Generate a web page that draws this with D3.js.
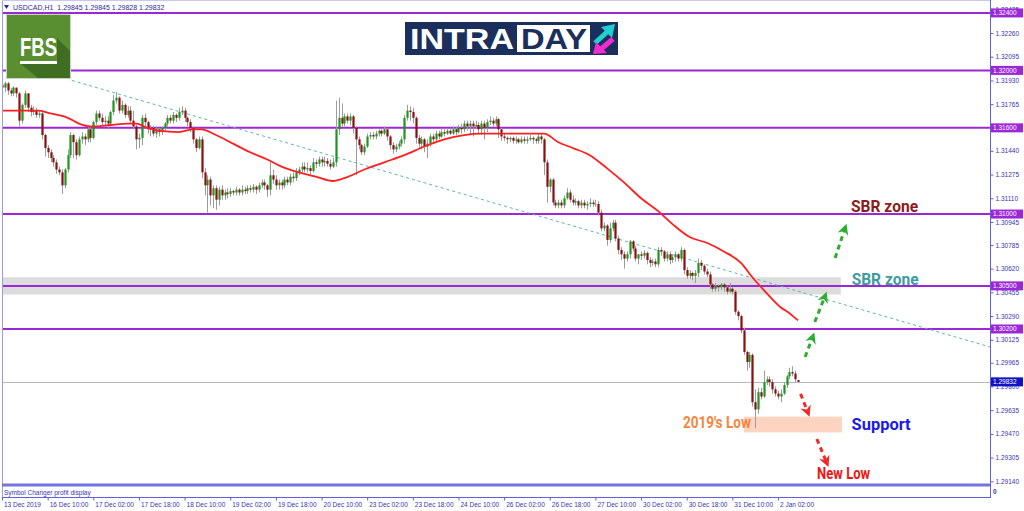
<!DOCTYPE html>
<html><head><meta charset="utf-8">
<script src="https://cdn.jsdelivr.net/npm/d3@7"></script>
<style>body{margin:0;background:#fff;}svg{display:block;}</style>
</head><body><svg id="c" width="1024" height="511"></svg>
<script>
const titleText = "USDCAD,H1  1.29845 1.29845 1.29828 1.29832";
const candles = [
[1.3190,1.3193,1.3186,1.3188],[1.3188,1.3192,1.3185,1.3191],[1.3191,1.3192,1.3183,1.3186],[1.3186,1.3188,1.3182,1.3184],[1.3184,1.3189,1.3182,1.3188],
[1.3188,1.3188,1.3181,1.3184],[1.3184,1.3185,1.3161,1.3165],[1.3165,1.3177,1.3163,1.3176],[1.3176,1.3186,1.3174,1.3184],[1.3184,1.3184,1.3171,1.3174],
[1.3174,1.3176,1.3168,1.3171],[1.3171,1.3175,1.3169,1.3172],[1.3172,1.3174,1.3167,1.3169],[1.3169,1.3172,1.3167,1.3170],[1.3170,1.3171,1.3152,1.3155],
[1.3155,1.3156,1.3140,1.3146],[1.3146,1.3148,1.3139,1.3143],[1.3143,1.3145,1.3136,1.3139],[1.3139,1.3141,1.3133,1.3136],[1.3136,1.3138,1.3128,1.3131],
[1.3131,1.3133,1.3127,1.3129],[1.3129,1.3131,1.3114,1.3120],[1.3120,1.3132,1.3118,1.3131],[1.3131,1.3145,1.3129,1.3141],[1.3141,1.3157,1.3139,1.3155],
[1.3155,1.3156,1.3139,1.3150],[1.3150,1.3152,1.3138,1.3141],[1.3141,1.3154,1.3140,1.3152],[1.3152,1.3157,1.3149,1.3154],[1.3154,1.3156,1.3148,1.3152],
[1.3152,1.3162,1.3150,1.3159],[1.3159,1.3161,1.3150,1.3153],[1.3153,1.3165,1.3152,1.3164],[1.3164,1.3172,1.3162,1.3170],[1.3170,1.3172,1.3165,1.3167],
[1.3167,1.3170,1.3162,1.3164],[1.3164,1.3168,1.3161,1.3165],[1.3165,1.3168,1.3160,1.3163],[1.3163,1.3172,1.3161,1.3171],[1.3171,1.3183,1.3169,1.3179],
[1.3179,1.3185,1.3177,1.3181],[1.3181,1.3182,1.3170,1.3172],[1.3172,1.3179,1.3170,1.3176],[1.3176,1.3177,1.3167,1.3169],[1.3169,1.3175,1.3167,1.3172],
[1.3172,1.3175,1.3163,1.3165],[1.3165,1.3172,1.3159,1.3161],[1.3161,1.3162,1.3145,1.3152],[1.3152,1.3156,1.3146,1.3153],[1.3153,1.3169,1.3148,1.3167],
[1.3167,1.3170,1.3160,1.3164],[1.3164,1.3165,1.3156,1.3159],[1.3159,1.3162,1.3154,1.3160],[1.3160,1.3161,1.3154,1.3156],[1.3156,1.3161,1.3153,1.3159],
[1.3159,1.3160,1.3154,1.3157],[1.3157,1.3161,1.3155,1.3160],[1.3160,1.3164,1.3158,1.3163],[1.3163,1.3169,1.3161,1.3167],[1.3167,1.3169,1.3163,1.3165],
[1.3165,1.3171,1.3163,1.3169],[1.3169,1.3170,1.3164,1.3167],[1.3167,1.3174,1.3165,1.3171],[1.3171,1.3175,1.3169,1.3172],[1.3172,1.3174,1.3164,1.3167],
[1.3167,1.3168,1.3161,1.3164],[1.3164,1.3166,1.3157,1.3160],[1.3160,1.3161,1.3149,1.3152],[1.3152,1.3153,1.3143,1.3146],[1.3146,1.3154,1.3145,1.3152],
[1.3152,1.3154,1.3125,1.3129],[1.3129,1.3132,1.3113,1.3120],[1.3120,1.3127,1.3101,1.3124],[1.3124,1.3126,1.3106,1.3113],[1.3113,1.3120,1.3104,1.3118],
[1.3118,1.3120,1.3103,1.3110],[1.3110,1.3119,1.3106,1.3117],[1.3117,1.3120,1.3110,1.3113],[1.3113,1.3117,1.3110,1.3115],[1.3115,1.3118,1.3111,1.3114],
[1.3114,1.3118,1.3112,1.3116],[1.3116,1.3117,1.3113,1.3115],[1.3115,1.3119,1.3113,1.3117],[1.3117,1.3118,1.3113,1.3115],[1.3115,1.3120,1.3113,1.3117],
[1.3117,1.3119,1.3114,1.3116],[1.3116,1.3120,1.3114,1.3118],[1.3118,1.3120,1.3115,1.3117],[1.3117,1.3121,1.3115,1.3119],[1.3119,1.3120,1.3114,1.3117],
[1.3117,1.3122,1.3115,1.3120],[1.3120,1.3124,1.3118,1.3122],[1.3122,1.3124,1.3117,1.3120],[1.3120,1.3121,1.3112,1.3117],[1.3117,1.3136,1.3113,1.3127],
[1.3127,1.3131,1.3121,1.3124],[1.3124,1.3127,1.3117,1.3120],[1.3120,1.3124,1.3117,1.3122],[1.3122,1.3124,1.3117,1.3120],[1.3120,1.3126,1.3118,1.3124],
[1.3124,1.3126,1.3120,1.3122],[1.3122,1.3128,1.3120,1.3126],[1.3126,1.3129,1.3122,1.3125],[1.3125,1.3132,1.3123,1.3129],[1.3129,1.3133,1.3127,1.3131],
[1.3131,1.3136,1.3129,1.3133],[1.3133,1.3136,1.3129,1.3131],[1.3131,1.3136,1.3129,1.3132],[1.3132,1.3134,1.3127,1.3130],[1.3130,1.3139,1.3129,1.3136],
[1.3136,1.3138,1.3132,1.3135],[1.3135,1.3140,1.3133,1.3138],[1.3138,1.3140,1.3133,1.3136],[1.3136,1.3140,1.3133,1.3137],[1.3137,1.3139,1.3133,1.3135],
[1.3135,1.3138,1.3131,1.3133],[1.3133,1.3139,1.3132,1.3136],[1.3136,1.3179,1.3133,1.3159],[1.3159,1.3181,1.3155,1.3167],[1.3167,1.3177,1.3161,1.3163],
[1.3163,1.3170,1.3161,1.3168],[1.3168,1.3170,1.3163,1.3165],[1.3165,1.3170,1.3162,1.3168],[1.3168,1.3169,1.3156,1.3160],[1.3160,1.3161,1.3127,1.3152],
[1.3152,1.3154,1.3145,1.3148],[1.3148,1.3149,1.3141,1.3143],[1.3143,1.3149,1.3141,1.3147],[1.3147,1.3156,1.3146,1.3154],[1.3154,1.3157,1.3152,1.3155],
[1.3155,1.3157,1.3152,1.3154],[1.3154,1.3158,1.3152,1.3156],[1.3156,1.3159,1.3154,1.3158],[1.3158,1.3159,1.3154,1.3156],[1.3156,1.3161,1.3155,1.3159],
[1.3159,1.3160,1.3151,1.3154],[1.3154,1.3155,1.3145,1.3148],[1.3148,1.3150,1.3142,1.3145],[1.3145,1.3149,1.3143,1.3147],[1.3147,1.3151,1.3145,1.3149],
[1.3149,1.3154,1.3147,1.3152],[1.3152,1.3169,1.3149,1.3167],[1.3167,1.3176,1.3165,1.3172],[1.3172,1.3175,1.3165,1.3171],[1.3171,1.3174,1.3163,1.3167],
[1.3167,1.3168,1.3149,1.3153],[1.3153,1.3155,1.3146,1.3149],[1.3149,1.3154,1.3145,1.3152],[1.3152,1.3153,1.3143,1.3147],[1.3147,1.3152,1.3139,1.3149],
[1.3149,1.3156,1.3147,1.3154],[1.3154,1.3156,1.3149,1.3152],[1.3152,1.3158,1.3150,1.3156],[1.3156,1.3158,1.3152,1.3154],[1.3154,1.3159,1.3153,1.3157],
[1.3157,1.3159,1.3154,1.3156],[1.3156,1.3160,1.3155,1.3158],[1.3158,1.3160,1.3155,1.3156],[1.3156,1.3161,1.3155,1.3159],[1.3159,1.3161,1.3155,1.3157],
[1.3157,1.3162,1.3156,1.3160],[1.3160,1.3163,1.3156,1.3159],[1.3159,1.3165,1.3157,1.3163],[1.3163,1.3165,1.3158,1.3161],[1.3161,1.3165,1.3155,1.3163],
[1.3163,1.3165,1.3154,1.3161],[1.3161,1.3165,1.3159,1.3162],[1.3162,1.3164,1.3156,1.3159],[1.3159,1.3165,1.3155,1.3163],[1.3163,1.3165,1.3152,1.3160],
[1.3160,1.3166,1.3157,1.3164],[1.3164,1.3168,1.3162,1.3165],[1.3165,1.3167,1.3161,1.3163],[1.3163,1.3168,1.3161,1.3166],[1.3166,1.3167,1.3153,1.3159],
[1.3159,1.3160,1.3151,1.3154],[1.3154,1.3156,1.3151,1.3153],[1.3153,1.3154,1.3149,1.3152],[1.3152,1.3154,1.3150,1.3153],[1.3153,1.3154,1.3149,1.3151],
[1.3151,1.3154,1.3149,1.3152],[1.3152,1.3153,1.3149,1.3150],[1.3150,1.3154,1.3149,1.3152],[1.3152,1.3154,1.3149,1.3151],[1.3151,1.3154,1.3149,1.3152],
[1.3152,1.3155,1.3151,1.3153],[1.3153,1.3154,1.3149,1.3152],[1.3152,1.3153,1.3149,1.3151],[1.3151,1.3156,1.3149,1.3154],[1.3154,1.3156,1.3149,1.3152],
[1.3152,1.3153,1.3127,1.3136],[1.3136,1.3138,1.3108,1.3119],[1.3119,1.3125,1.3115,1.3124],[1.3124,1.3125,1.3106,1.3108],[1.3108,1.3110,1.3104,1.3106],
[1.3106,1.3110,1.3104,1.3108],[1.3108,1.3110,1.3104,1.3106],[1.3106,1.3113,1.3104,1.3111],[1.3111,1.3118,1.3110,1.3115],[1.3115,1.3117,1.3108,1.3110],
[1.3110,1.3113,1.3106,1.3108],[1.3108,1.3111,1.3106,1.3109],[1.3109,1.3110,1.3104,1.3106],[1.3106,1.3110,1.3104,1.3108],[1.3108,1.3110,1.3104,1.3106],
[1.3106,1.3109,1.3103,1.3107],[1.3107,1.3111,1.3105,1.3108],[1.3108,1.3110,1.3105,1.3107],[1.3107,1.3110,1.3105,1.3107],[1.3107,1.3109,1.3099,1.3101],
[1.3101,1.3103,1.3088,1.3090],[1.3090,1.3094,1.3088,1.3092],[1.3092,1.3093,1.3078,1.3082],[1.3082,1.3094,1.3080,1.3090],[1.3090,1.3096,1.3088,1.3094],
[1.3094,1.3096,1.3081,1.3083],[1.3083,1.3085,1.3072,1.3075],[1.3075,1.3077,1.3068,1.3072],[1.3072,1.3074,1.3062,1.3069],[1.3069,1.3074,1.3067,1.3072],
[1.3072,1.3082,1.3069,1.3081],[1.3081,1.3082,1.3074,1.3076],[1.3076,1.3078,1.3067,1.3069],[1.3069,1.3072,1.3065,1.3072],[1.3072,1.3074,1.3068,1.3071],
[1.3071,1.3075,1.3069,1.3073],[1.3073,1.3074,1.3065,1.3068],[1.3068,1.3070,1.3063,1.3066],[1.3066,1.3069,1.3064,1.3067],[1.3067,1.3069,1.3063,1.3065],
[1.3065,1.3077,1.3063,1.3075],[1.3075,1.3077,1.3071,1.3074],[1.3074,1.3075,1.3067,1.3069],[1.3069,1.3074,1.3067,1.3072],[1.3072,1.3074,1.3065,1.3068],
[1.3068,1.3072,1.3066,1.3070],[1.3070,1.3074,1.3067,1.3072],[1.3072,1.3073,1.3067,1.3069],[1.3069,1.3077,1.3067,1.3075],[1.3075,1.3076,1.3058,1.3061],
[1.3061,1.3063,1.3055,1.3057],[1.3057,1.3061,1.3055,1.3059],[1.3059,1.3060,1.3054,1.3057],[1.3057,1.3061,1.3052,1.3059],[1.3059,1.3069,1.3056,1.3066],
[1.3066,1.3068,1.3061,1.3064],[1.3064,1.3065,1.3058,1.3060],[1.3060,1.3062,1.3056,1.3058],[1.3058,1.3060,1.3048,1.3051],[1.3051,1.3052,1.3046,1.3048],
[1.3048,1.3052,1.3046,1.3050],[1.3050,1.3051,1.3046,1.3049],[1.3049,1.3052,1.3047,1.3051],[1.3051,1.3052,1.3046,1.3049],[1.3049,1.3050,1.3044,1.3046],
[1.3046,1.3052,1.3045,1.3048],[1.3048,1.3049,1.3044,1.3046],[1.3046,1.3047,1.3030,1.3032],[1.3032,1.3033,1.3026,1.3029],[1.3029,1.3030,1.3017,1.3019],
[1.3019,1.3021,1.3002,1.3004],[1.3004,1.3005,1.2991,1.2997],[1.2997,1.3004,1.2993,1.3002],[1.3002,1.3003,1.2966,1.2969],[1.2969,1.2978,1.2951,1.2964],
[1.2964,1.2979,1.2961,1.2976],[1.2976,1.2979,1.2971,1.2973],[1.2973,1.2991,1.2972,1.2983],[1.2983,1.2987,1.2981,1.2985],[1.2985,1.2987,1.2980,1.2983],
[1.2983,1.2985,1.2975,1.2978],[1.2978,1.2980,1.2973,1.2975],[1.2975,1.2977,1.2971,1.2973],[1.2973,1.2978,1.2969,1.2975],[1.2975,1.2983,1.2974,1.2981],
[1.2981,1.2988,1.2979,1.2987],[1.2987,1.2993,1.2985,1.2990],[1.2990,1.2994,1.2987,1.2989],[1.2989,1.2991,1.2983,1.2985],[1.29845,1.29845,1.29828,1.29832]
];
const maBars = [0,6,13,17,23,27,31,38,44,47,51,55,62,67,70,75,81,87,93,98,104,110,116,120,127,134,141,148,155,162,168,176,185,190,195,200,206,212,218,224,230,235,241,247,253,259,263,268,273,276,279];
const maValues = [1.3172,1.3172,1.3172,1.3170,1.3167,1.3163,1.3161,1.3162,1.3163,1.3163,1.3160,1.3158,1.3157,1.3159,1.3159,1.3155,1.3149,1.3143,1.3138,1.3133,1.3129,1.3126,1.3123,1.3125,1.3131,1.3136,1.3141,1.3147,1.3152,1.3155,1.3156,1.3156,1.3156,1.3156,1.3150,1.3146,1.3141,1.3132,1.3122,1.3111,1.3102,1.3093,1.3084,1.3080,1.3074,1.3066,1.3056,1.3045,1.3035,1.3031,1.3026];
const xTickBars = [0,16,32,48,64,80,96,112,128,144,160,176,192,208,224,240,256,272];
const xTickLabels = ["13 Dec 2019","16 Dec 10:00","17 Dec 02:00","17 Dec 18:00","18 Dec 10:00","19 Dec 02:00","19 Dec 18:00","20 Dec 10:00","23 Dec 02:00","23 Dec 18:00","24 Dec 10:00","26 Dec 02:00","26 Dec 18:00","27 Dec 10:00","30 Dec 02:00","30 Dec 18:00","31 Dec 10:00","2 Jan 02:00"];
const yTicks = [1.32425,1.32260,1.32095,1.31930,1.31765,1.31440,1.31275,1.31110,1.30945,1.30785,1.30620,1.30455,1.30290,1.30125,1.29965,1.29800,1.29635,1.29470,1.29305,1.29140];
const levels = [1.32400,1.32000,1.31600,1.31000,1.30500,1.30200];
const bidPrice = 1.29832;
const trendBars = [24.5,346.3];
const trendPrices = [1.3193,1.30075];
const grayZone = {bars:[0,294], prices:[1.3044,1.3056]};
const supportZone = {bars:[260,294.4], prices:[1.2948,1.2959]};
const greenArrows = [[[281.5,1.30005],[284.2,1.30147]],[[284.9,1.30249],[288.5,1.30430]],[[292.0,1.30694],[295.5,1.30903]]];
const redArrows = [[[279.9,1.29748],[282.5,1.29618]],[[285.6,1.29434],[289.1,1.29268]]];
const notes = [
 {text:"SBR zone", bar:297.6, price:1.31056, color:"#8e1b1b", anchor:"start", len:67},
 {text:"SBR zone", bar:297.8, price:1.30548, color:"#3d9d9d", anchor:"start", len:67},
 {text:"Support", bar:297.8, price:1.29539, color:"#1a1ae8", anchor:"start", len:59},
 {text:"2019's Low", bar:262.5, price:1.29548, color:"#f5853f", anchor:"end", len:68},
 {text:"New Low", bar:285.7, price:1.29198, color:"#f01515", anchor:"start", len:53}
];

const svg = d3.select("#c");
const plotL=2, plotR=990, plotT=1, plotB=484;
const x = d3.scaleLinear().domain([0,346.3]).range([plotL,plotR]);
const y = d3.scaleLinear().domain([1.29121,1.32483]).range([plotB,plotT]);
const axisCol="#5f5fe0", txtCol="#3636b4", purple="#9b27d6";
const tickFont="'Liberation Sans', Arial, sans-serif";

svg.append("rect").attr("width",1024).attr("height",511).attr("fill","#fff");
const defs = svg.append("defs");
defs.append("clipPath").attr("id","plot").append("rect").attr("x",plotL).attr("y",plotT).attr("width",plotR-plotL).attr("height",plotB-plotT);
function mk(id,col){defs.append("marker").attr("id",id).attr("viewBox","0 0 10 10").attr("refX",6).attr("refY",5)
 .attr("markerWidth",11).attr("markerHeight",11).attr("markerUnits","userSpaceOnUse").attr("orient","auto")
 .append("path").attr("d","M0,0 L10,5 L0,10 L3,5 Z").attr("fill",col);}
mk("ag","#2eae2e"); mk("ar","#f02a2a");

const P = svg.append("g").attr("clip-path","url(#plot)");
// zones
P.append("rect").attr("x",x(grayZone.bars[0])).attr("width",x(grayZone.bars[1])-x(grayZone.bars[0]))
 .attr("y",y(grayZone.prices[1])).attr("height",y(grayZone.prices[0])-y(grayZone.prices[1])).attr("fill","#dcdcdc");
P.append("rect").attr("x",x(supportZone.bars[0])).attr("width",x(supportZone.bars[1])-x(supportZone.bars[0]))
 .attr("y",y(supportZone.prices[1])).attr("height",y(supportZone.prices[0])-y(supportZone.prices[1])).attr("fill","#fdd4c1");
// levels
P.selectAll("line.lv").data(levels).join("line").attr("x1",plotL).attr("x2",plotR)
 .attr("y1",d=>y(d)).attr("y2",d=>y(d)).attr("stroke",purple).attr("stroke-width",2);
P.append("line").attr("x1",plotL).attr("x2",plotR).attr("y1",Math.round(y(bidPrice))+0.5).attr("y2",Math.round(y(bidPrice))+0.5).attr("stroke","#b8b8b8");
// trendline
P.append("line").attr("x1",x(trendBars[0])).attr("y1",y(trendPrices[0])).attr("x2",x(trendBars[1])).attr("y2",y(trendPrices[1]))
 .attr("stroke","#5fb4b4").attr("stroke-width",1).attr("stroke-dasharray","3,3");
// candles
const cg = P.append("g");
cg.selectAll("line.w").data(candles).join("line")
 .attr("x1",(d,i)=>Math.round(x(i))+0.5).attr("x2",(d,i)=>Math.round(x(i))+0.5)
 .attr("y1",d=>y(d[1])).attr("y2",d=>y(d[2])).attr("stroke","#9c9c9c").attr("stroke-width",1);
cg.selectAll("rect.b").data(candles).join("rect")
 .attr("x",(d,i)=>Math.round(x(i))-0.6).attr("width",2.2)
 .attr("y",d=>y(Math.max(d[0],d[3])))
 .attr("height",d=>Math.max(1,Math.abs(y(d[0])-y(d[3]))))
 .attr("fill",d=>d[3]>d[0]?"#1f941f":(d[3]<d[0]?"#8a0f0f":"#9c9c9c"));
// MA
const maPts = maBars.map((b,i)=>[b,maValues[i]]);
P.append("path").datum(maPts).attr("fill","none").attr("stroke","#ff1f1f").attr("stroke-width",1.8)
 .attr("d",d3.line().x(d=>x(d[0])).y(d=>y(d[1])).curve(d3.curveMonotoneX));
// arrows
P.selectAll("line.ga").data(greenArrows).join("line")
 .attr("x1",d=>x(d[0][0])).attr("y1",d=>y(d[0][1])).attr("x2",d=>x(d[1][0])).attr("y2",d=>y(d[1][1]))
 .attr("stroke","#2eae2e").attr("stroke-width",3).attr("stroke-dasharray","5,4").attr("marker-end","url(#ag)");
P.selectAll("line.ra").data(redArrows).join("line")
 .attr("x1",d=>x(d[0][0])).attr("y1",d=>y(d[0][1])).attr("x2",d=>x(d[1][0])).attr("y2",d=>y(d[1][1]))
 .attr("stroke","#f02a2a").attr("stroke-width",3).attr("stroke-dasharray","5,4").attr("marker-end","url(#ar)");
// notes
P.selectAll("text.n").data(notes).join("text")
 .attr("x",d=>x(d.bar)).attr("y",d=>y(d.price)).attr("dy","0.36em")
 .attr("text-anchor",d=>d.anchor).attr("fill",d=>d.color)
 .attr("font-family","Roboto, 'Open Sans', sans-serif").attr("font-weight",700).attr("font-size",16)
 .attr("textLength",d=>d.len).attr("lengthAdjust","spacingAndGlyphs").text(d=>d.text);

// FBS logo
const fl = svg.append("g");
fl.append("rect").attr("x",6.5).attr("y",14.5).attr("width",64).attr("height",64).attr("fill","#5a8f31").attr("stroke","#c9d3c0");
fl.append("polygon").attr("points","57,38 70,51 70,78 38,78 21,64 57,64").attr("fill","#3f6d22");
fl.append("text").attr("x",38.5).attr("y",56).attr("text-anchor","middle").attr("fill","#fff")
 .attr("font-family","'Liberation Sans', Arial, sans-serif").attr("font-weight",700).attr("font-size",25)
 .attr("textLength",37).attr("lengthAdjust","spacingAndGlyphs").text("FBS");
fl.append("rect").attr("x",20).attr("y",61).attr("width",37).attr("height",3).attr("fill","#fff");

// INTRADAY logo
const il = svg.append("g");
il.append("rect").attr("x",405).attr("y",22).attr("width",213).attr("height",33).attr("fill","#1a2f5c");
il.append("text").attr("x",410).attr("y",49).attr("fill","#fff").attr("font-family","'Liberation Sans', Arial, sans-serif")
 .attr("font-weight",700).attr("font-size",29).attr("textLength",104).attr("lengthAdjust","spacingAndGlyphs").text("INTRA");
il.append("rect").attr("x",517).attr("y",25).attr("width",73).attr("height",27).attr("fill","#fff");
il.append("text").attr("x",521).attr("y",49).attr("fill","#1a2f5c").attr("font-family","'Liberation Sans', Arial, sans-serif")
 .attr("font-weight",700).attr("font-size",29).attr("textLength",66).attr("lengthAdjust","spacingAndGlyphs").text("DAY");
il.append("line").attr("x1",595).attr("y1",43).attr("x2",607).attr("y2",32).attr("stroke","#22cfcf").attr("stroke-width",5);
il.append("polygon").attr("points","601,27 615,24 612,38").attr("fill","#22cfcf");
il.append("line").attr("x1",613).attr("y1",39).attr("x2",601).attr("y2",49).attr("stroke","#f22cd0").attr("stroke-width",5);
il.append("polygon").attr("points","596,42 593,54 607,53").attr("fill","#f22cd0");

// frame
svg.append("line").attr("x1",2.5).attr("x2",2.5).attr("y1",0).attr("y2",497).attr("stroke","#9a9ae6");
svg.append("line").attr("x1",2).attr("x2",990).attr("y1",0.5).attr("y2",0.5).attr("stroke","#c8c8ee");
svg.append("rect").attr("x",2).attr("y",483.5).attr("width",988).attr("height",3).attr("fill","#7373e2");
svg.append("line").attr("x1",2).attr("x2",990).attr("y1",497.5).attr("y2",497.5).attr("stroke",axisCol);
svg.append("line").attr("x1",990.5).attr("x2",990.5).attr("y1",0).attr("y2",498).attr("stroke",axisCol);

// title
svg.append("path").attr("d","M4,5 L9,5 L6.5,9 Z").attr("fill","#2b2b96");
svg.append("text").attr("x",13).attr("y",10).attr("fill","#2b2b96").attr("font-family",tickFont).attr("font-size",7)
 .attr("xml:space","preserve").style("white-space","pre").text(titleText);
svg.append("text").attr("x",4).attr("y",494.5).attr("fill",txtCol).attr("font-family",tickFont).attr("font-size",6.5).text("Symbol Changer profit display");
svg.append("text").attr("x",993).attr("y",494).attr("fill",txtCol).attr("font-family",tickFont).attr("font-size",6.5).attr("font-weight",700).text("0");

// y axis
const ya = svg.append("g").attr("transform","translate(990.5,0)")
 .call(d3.axisRight(y).tickValues(yTicks).tickSize(3).tickPadding(2).tickFormat(d3.format(".5f")));
ya.select(".domain").remove();
ya.selectAll("line").attr("stroke",axisCol);
ya.selectAll("text").attr("fill",txtCol).attr("font-family",tickFont).attr("font-size",6.5);

// x axis
const xa = svg.append("g").attr("transform","translate(0,497.5)")
 .call(d3.axisBottom(x).tickValues(xTickBars).tickSize(3).tickFormat((d,i)=>xTickLabels[i]));
xa.select(".domain").remove();
xa.selectAll("line").attr("stroke",axisCol);
xa.selectAll("text").attr("text-anchor","start").attr("x",1.5).attr("y",4.5).attr("fill",txtCol)
 .attr("font-family",tickFont).attr("font-size",6.5);

// price boxes
const pb = svg.append("g");
const boxes = levels.map(v=>({v,col:purple})).concat([{v:bidPrice,col:"#1212c4"}]);
pb.selectAll("rect").data(boxes).join("rect").attr("x",991).attr("width",32).attr("y",d=>y(d.v)-4.5).attr("height",9).attr("fill",d=>d.col);
pb.selectAll("text").data(boxes).join("text").attr("x",993).attr("y",d=>y(d.v)).attr("dy","0.35em").attr("fill","#fff")
 .attr("font-family",tickFont).attr("font-size",6.5).text(d=>d3.format(".5f")(d.v));
</script></body></html>
